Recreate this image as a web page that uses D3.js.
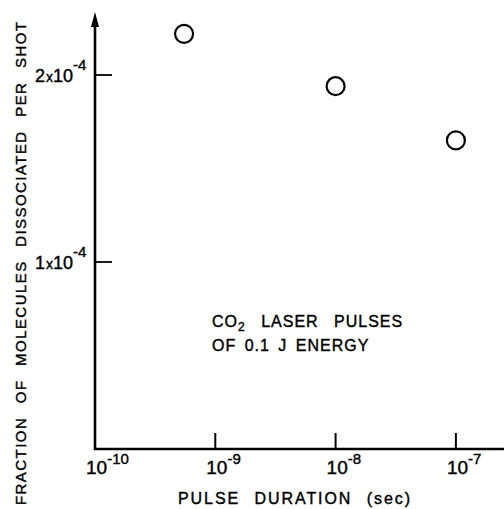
<!DOCTYPE html>
<html>
<head>
<meta charset="utf-8">
<script src="https://cdn.jsdelivr.net/npm/d3@7"></script>
<style>
  body { margin: 0; background: #fff; }
  svg { display: block; }
  text { font-family: "Liberation Sans", Arial, sans-serif; fill: #000; stroke: #000; stroke-width: 0.4; }
</style>
</head>
<body>
<div id="chart"></div>
<script>
// data
const pulseDuration = [5.5e-10, 1e-8, 1e-7];          // sec
const fractionDissociated = [2.22e-4, 1.94e-4, 1.65e-4];
const xTicks = [1e-10, 1e-9, 1e-8, 1e-7];
const xTickExp = ["-10", "-9", "-8", "-7"];
const yTicks = [1e-4, 2e-4];
const yTickMant = ["1", "2"];

const width = 504, height = 509;

const svg = d3.select('#chart')
    .append('svg')
    .attr('width', width)
    .attr('height', height);

// log x, linear y
const x = d3.scaleLog()
    .domain([1e-10, 10 ** 0.4 * 1e-7])
    .range([95, 504]);

const y = d3.scaleLinear()
    .domain([0, 1e-4])
    .range([449, 262]);

// axes
svg.append('line')
    .attr('x1', x(1e-10) - 1).attr('x2', 504)
    .attr('y1', y(0)).attr('y2', y(0))
    .attr('stroke', '#000').attr('stroke-width', 2.6);

svg.append('line')
    .attr('x1', x(1e-10)).attr('x2', x(1e-10))
    .attr('y1', y(0) + 1).attr('y2', 22)
    .attr('stroke', '#000').attr('stroke-width', 2.6);

// arrow head on y axis
svg.append('path')
    .attr('d', `M${x(1e-10)},12 L${x(1e-10) - 4},27 L${x(1e-10) + 4},27 Z`)
    .attr('fill', '#000');

// x ticks
svg.append('g')
    .selectAll('line')
    .data(xTicks.slice(1))
    .join('line')
    .attr('x1', d => x(d)).attr('x2', d => x(d))
    .attr('y1', y(0)).attr('y2', y(0) - 16)
    .attr('stroke', '#000').attr('stroke-width', 2);

const xl = svg.append('g')
    .selectAll('text')
    .data(xTicks)
    .join('text')
    .attr('x', d => x(d) - 9)
    .attr('y', 474)
    .attr('font-size', 19);
xl.append('tspan').text('10');
xl.append('tspan')
    .attr('dy', -10)
    .attr('font-size', 15)
    .text((d, i) => xTickExp[i]);

// y ticks
svg.append('g')
    .selectAll('line')
    .data(yTicks)
    .join('line')
    .attr('x1', x(1e-10)).attr('x2', x(1e-10) + 17)
    .attr('y1', d => y(d)).attr('y2', d => y(d))
    .attr('stroke', '#000').attr('stroke-width', 1.8);

const yl = svg.append('g')
    .selectAll('text')
    .data(yTicks)
    .join('text')
    .attr('x', 35)
    .attr('y', d => y(d) + 7)
    .attr('font-size', 18);
yl.append('tspan').text((d, i) => yTickMant[i]);
yl.append('tspan').attr('font-size', 14).attr('dx', 1).text('x');
yl.append('tspan').text('10');
yl.append('tspan')
    .attr('dy', -12)
    .attr('font-size', 15)
    .text('-4');

// data points
svg.append('g')
    .selectAll('circle')
    .data(pulseDuration)
    .join('circle')
    .attr('cx', d => x(d))
    .attr('cy', (d, i) => y(fractionDissociated[i]))
    .attr('r', 9)
    .attr('fill', 'none')
    .attr('stroke', '#000')
    .attr('stroke-width', 2.2);

// annotation
const note = svg.append('text')
    .attr('x', 212)
    .attr('y', 327)
    .attr('font-size', 16)
    .attr('letter-spacing', 1)
    .attr('word-spacing', 10);
note.append('tspan').text('CO');
note.append('tspan').attr('dy', 4).attr('font-size', 12).text('2');
note.append('tspan').attr('dy', -4).text(' LASER PULSES');

svg.append('text')
    .attr('x', 212)
    .attr('y', 351)
    .attr('font-size', 16)
    .attr('letter-spacing', 1)
    .attr('word-spacing', 3)
    .text('OF 0.1 J ENERGY');

// axis titles
svg.append('text')
    .attr('x', 178)
    .attr('y', 504)
    .attr('font-size', 16)
    .attr('word-spacing', 8)
    .attr('textLength', 232)
    .attr('lengthAdjust', 'spacing')
    .text('PULSE DURATION (sec)');

svg.append('text')
    .attr('transform', 'translate(26,505) rotate(-90)')
    .attr('font-size', 15)
    .attr('word-spacing', 8)
    .attr('textLength', 483)
    .attr('lengthAdjust', 'spacing')
    .text('FRACTION OF MOLECULES DISSOCIATED PER SHOT');
</script>
</body>
</html>
